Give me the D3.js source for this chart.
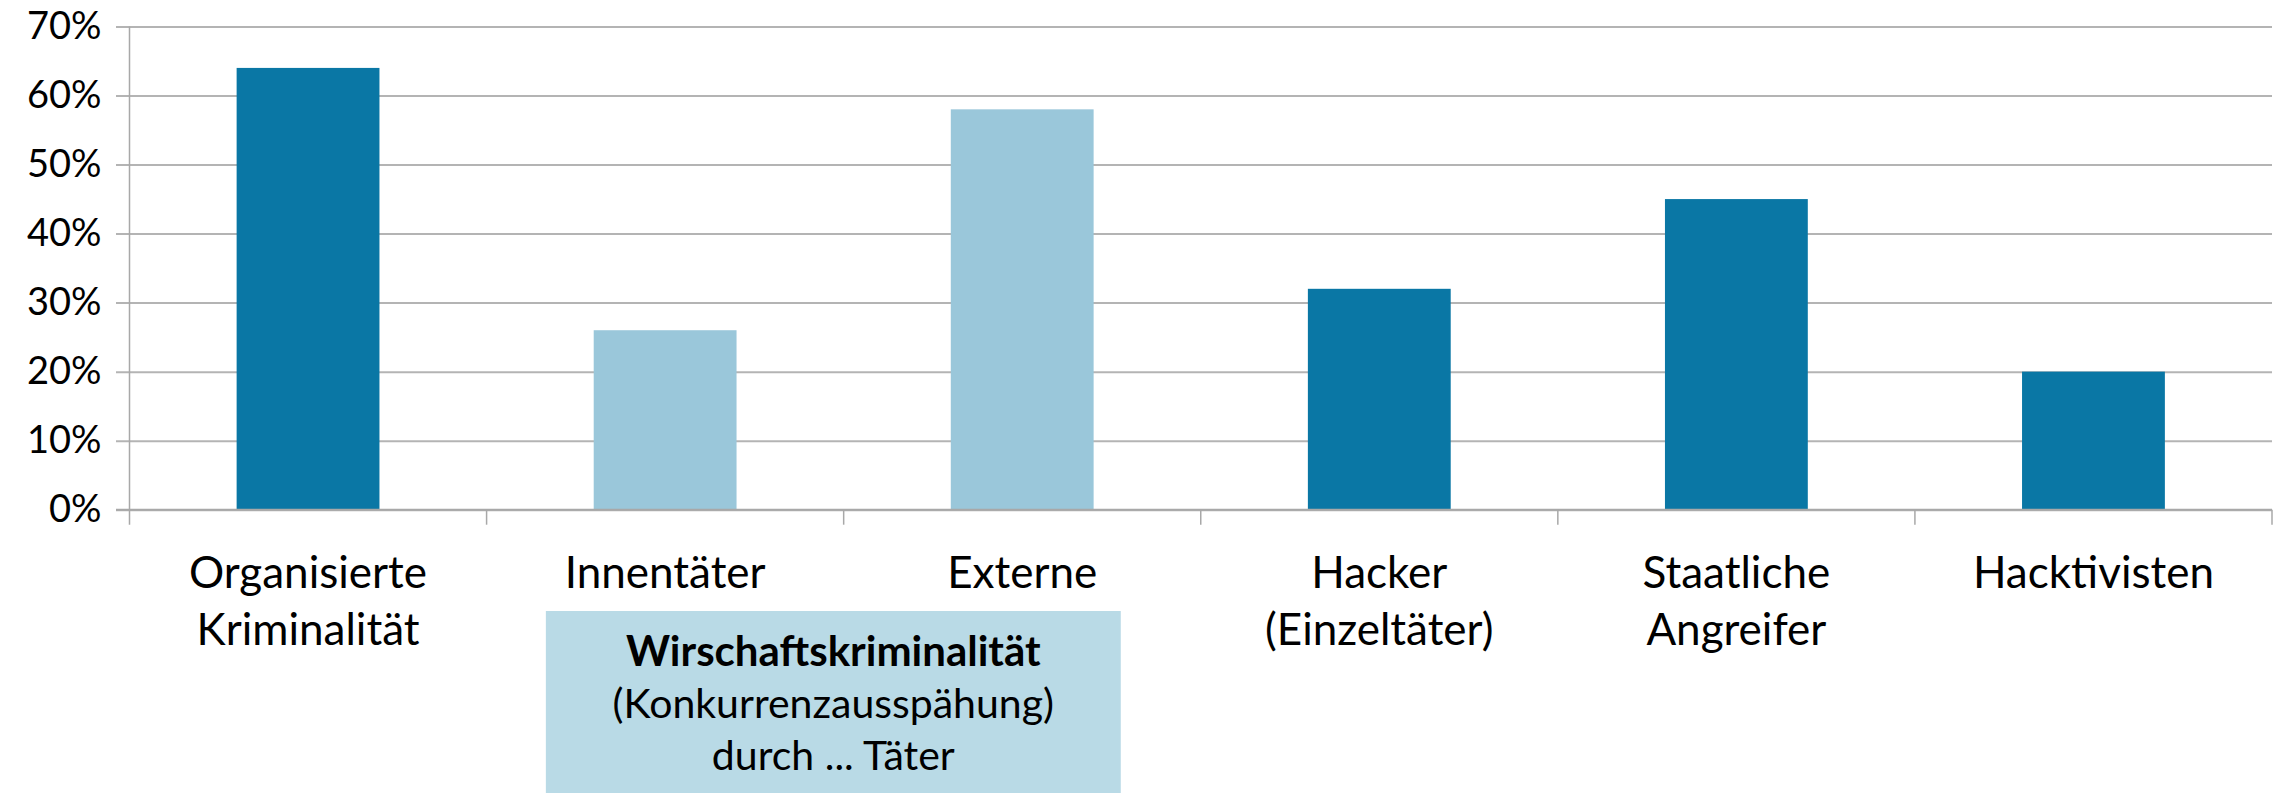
<!DOCTYPE html>
<html>
<head>
<meta charset="utf-8">
<script src="https://cdn.jsdelivr.net/npm/d3@7"></script>
<style>
  body { margin: 0; background: #fff; }
  svg { display: block; font-family: Lato, "Noto Sans", sans-serif; }
</style>
</head>
<body>
<svg></svg>
<script>
// data
let categories = [
    ['Organisierte', 'Kriminalität'],
    ['Innentäter'],
    ['Externe'],
    ['Hacker', '(Einzeltäter)'],
    ['Staatliche', 'Angreifer'],
    ['Hacktivisten']
]
let values = [64, 26, 58, 32, 45, 20]
// which categories belong to the "Wirtschaftskriminalität" group
let wirtschaft = [false, true, true, false, false, false]
let yTicks = [0, 10, 20, 30, 40, 50, 60, 70]
let boxLines = ['Wirschaftskriminalität', '(Konkurrenzausspähung)', 'durch ... Täter']

let width = 2277
let height = 793
let plotLeft = 129.5
let plotRight = 2272
let plotTop = 26.5
let plotBottom = 509.7

let darkBlue = '#0a77a5'
let lightBlue = '#9ac7da'
let gridColor = '#b4b4b4'

let svg = d3.select('svg')
    .attr('width', width)
    .attr('height', height)

let keys = categories.map((c) => c.join(' '))

let xScale = d3.scaleBand()
    .domain(keys)
    .range([plotLeft, plotRight])
    .paddingInner(0.6)
    .paddingOuter(0.3)

let yScale = d3.scaleLinear()
    .domain([0, 70])
    .range([plotBottom, plotTop])

let step = xScale.step()

// gridlines + y labels
let yAxis = d3.axisLeft(yScale)
    .tickValues(yTicks)
    .tickSize(-(plotRight - plotLeft))
    .tickPadding(28)
    .tickFormat((d) => d + '%')

svg.append('g')
    .attr('transform', 'translate(' + plotLeft + ',0)')
    .call(yAxis)
    .call((g) => g.select('.domain').remove())
    .call((g) => g.selectAll('.tick line')
        .attr('x1', -13.5)
        .attr('stroke', gridColor)
        .attr('stroke-width', 2))
    .call((g) => g.selectAll('.tick text')
        .attr('fill', '#000')
        .style('font-size', '38px')
        .style('font-family', 'Lato, "Noto Sans", sans-serif'))

// y axis line
svg.append('line')
    .attr('x1', plotLeft).attr('x2', plotLeft)
    .attr('y1', plotTop).attr('y2', plotBottom + 15)
    .attr('stroke', '#a8a8a8')
    .attr('stroke-width', 1.5)

// bars
svg.selectAll('rect.bar')
    .data(values)
    .enter()
    .append('rect')
    .attr('class', 'bar')
    .attr('x', (d, i) => xScale(keys[i]))
    .attr('y', (d) => yScale(d))
    .attr('width', xScale.bandwidth())
    .attr('height', (d) => plotBottom - yScale(d))
    .attr('fill', (d, i) => wirtschaft[i] ? lightBlue : darkBlue)

// x axis baseline and category separators
svg.append('line')
    .attr('x1', plotLeft - 13.5).attr('x2', plotRight)
    .attr('y1', plotBottom).attr('y2', plotBottom)
    .attr('stroke', '#a8a8a8')
    .attr('stroke-width', 2)

svg.selectAll('line.sep')
    .data(d3.range(1, keys.length + 1))
    .enter()
    .append('line')
    .attr('class', 'sep')
    .attr('x1', (i) => plotLeft + i * step)
    .attr('x2', (i) => plotLeft + i * step)
    .attr('y1', plotBottom)
    .attr('y2', plotBottom + 15)
    .attr('stroke', '#a8a8a8')
    .attr('stroke-width', 1.5)

// category labels
let labels = svg.selectAll('text.cat')
    .data(categories)
    .enter()
    .append('text')
    .attr('class', 'cat')
    .attr('text-anchor', 'middle')
    .style('font-size', '44px')
    .attr('fill', '#000')

labels.selectAll('tspan')
    .data((d, i) => d.map((line, j) => ({ line: line, j: j, key: keys[i] })))
    .enter()
    .append('tspan')
    .attr('x', (d) => xScale(d.key) + xScale.bandwidth() / 2)
    .attr('y', (d) => plotBottom + 78 + d.j * 57)
    .text((d) => d.line)

// Wirtschaftskriminalität box
let groupKeys = keys.filter((k, i) => wirtschaft[i])
let boxX0 = xScale(groupKeys[0]) - xScale.bandwidth() * 0.335
let boxX1 = xScale(groupKeys[groupKeys.length - 1]) + xScale.bandwidth() * 1.19

svg.append('rect')
    .attr('x', boxX0)
    .attr('y', 611)
    .attr('width', boxX1 - boxX0)
    .attr('height', height - 611)
    .attr('fill', '#b9dae6')

svg.selectAll('text.box')
    .data(boxLines)
    .enter()
    .append('text')
    .attr('class', 'box')
    .attr('x', (boxX0 + boxX1) / 2)
    .attr('y', (d, i) => 666 + i * 52)
    .attr('text-anchor', 'middle')
    .style('font-size', (d, i) => i === 0 ? '42px' : '41px')
    .style('font-weight', (d, i) => i === 0 ? 700 : 400)
    .attr('fill', '#000')
    .text((d) => d)
</script>
</body>
</html>
